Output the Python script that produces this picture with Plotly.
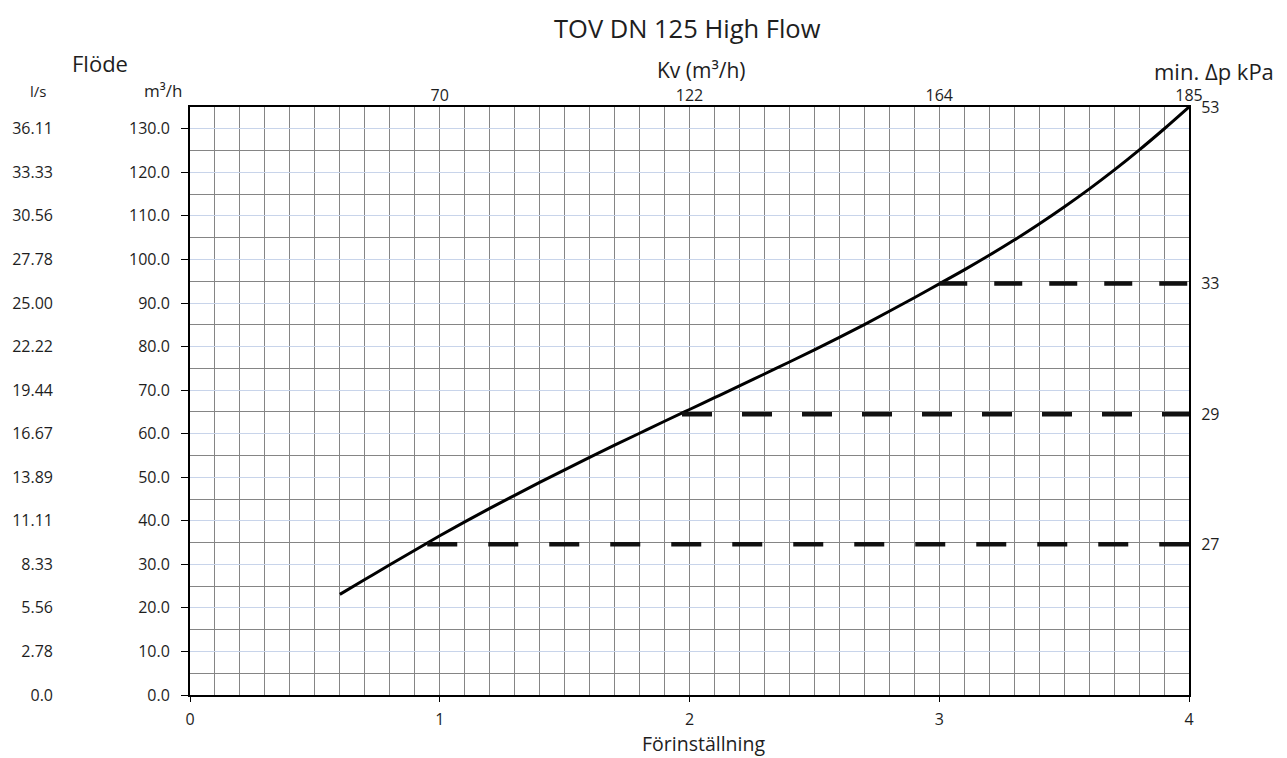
import plotly.graph_objects as go

# ---- data ----
preset = [0.6, 0.7, 0.8, 0.9, 1.0, 1.1, 1.2, 1.3, 1.4, 1.5, 1.6, 1.7, 1.8, 1.9, 2.0,
          2.1, 2.2, 2.3, 2.4, 2.5, 2.6, 2.7, 2.8, 2.9, 3.0, 3.1, 3.2, 3.3, 3.4, 3.5,
          3.6, 3.7, 3.8, 3.9, 4.0]
flow_m3h = [23.1, 26.5, 29.9, 33.25, 36.55, 39.75, 42.85, 45.85, 48.8, 51.7, 54.55,
            57.35, 60.1, 62.85, 65.55, 68.25, 70.95, 73.7, 76.45, 79.25, 82.1, 85.05,
            88.1, 91.2, 94.4, 97.6, 100.95, 104.45, 108.15, 112.05, 116.15, 120.5,
            125.1, 129.95, 135.0]

dp_levels = [34.6, 64.45, 94.5]          # m3/h level of each min. dp line
dp_starts = [0.95, 1.97, 3.0]            # preset where each dashed line begins
dp_labels = ["27", "29", "33"]
dp_top_level = 135.0
dp_top_label = "53"
dp_dashes = ["30px,31px", "30px,30px", "28px,27px"]

kv_positions = [1, 2, 3, 4]
kv_labels = ["70", "122", "164", "185"]

m3h_ticks = [0, 10, 20, 30, 40, 50, 60, 70, 80, 90, 100, 110, 120, 130]
m3h_labels = ["0.0", "10.0", "20.0", "30.0", "40.0", "50.0", "60.0", "70.0", "80.0",
              "90.0", "100.0", "110.0", "120.0", "130.0"]
ls_labels = ["0.0", "2.78", "5.56", "8.33", "11.11", "13.89", "16.67", "19.44",
             "22.22", "25.00", "27.78", "30.56", "33.33", "36.11"]

x_ticks = [0, 1, 2, 3, 4]

# ---- layout constants (page body has an 8px margin) ----
OFF = 8
W, H = 1287 - OFF, 758 - OFF
ML, MR, MT, MB = 45, 98, 98.5, 62.5
PLOT_L = 182
FONT = "Open Sans"
TXT = "#1e1e1e"
GRAY = "#858585"
LBLUE = "#c8d4ea"

fig = go.Figure()

fig.add_trace(go.Scatter(x=preset, y=flow_m3h, mode="lines",
                         line=dict(color="black", width=3, shape="spline", smoothing=1.0),
                         hoverinfo="skip", showlegend=False))

for lvl, st, dsh in zip(dp_levels, dp_starts, dp_dashes):
    fig.add_trace(go.Scatter(x=[st, 4], y=[lvl, lvl], mode="lines",
                             line=dict(color="#111111", width=4.5, dash=dsh),
                             hoverinfo="skip", showlegend=False))

# invisible carriers for secondary axes
fig.add_trace(go.Scatter(x=preset, y=flow_m3h, xaxis="x2", yaxis="y2", mode="lines",
                         line=dict(width=0), opacity=0, hoverinfo="skip", showlegend=False))
fig.add_trace(go.Scatter(x=preset, y=flow_m3h, xaxis="x", yaxis="y3", mode="lines",
                         line=dict(width=0), opacity=0, hoverinfo="skip", showlegend=False))

PW = W - ML - MR
PH = H - MT - MB
dom0 = (PLOT_L - ML) / PW


def px_x(px):
    return (px - OFF - ML) / PW


def px_y(py):
    return 1 - (py - OFF - MT) / PH


fig.update_layout(
    width=W, height=H,
    margin=dict(l=ML, r=MR, t=MT, b=MB, autoexpand=False),
    paper_bgcolor="white", plot_bgcolor="white",
    font=dict(family=FONT, size=16, color=TXT),
    showlegend=False,
    xaxis=dict(domain=[dom0, 1], range=[0, 4], tickvals=x_ticks,
               ticks="outside", ticklen=5, tickcolor="black", tickwidth=1,
               ticklabelstandoff=4,
               showgrid=True, gridcolor=GRAY, gridwidth=1,
               minor=dict(dtick=0.1, showgrid=True, gridcolor=GRAY, gridwidth=1, ticks=""),
               showline=True, linecolor="black", linewidth=2, mirror=True,
               zeroline=False, automargin=False,
               tickfont=dict(size=16)),
    xaxis2=dict(overlaying="x", side="top", range=[0, 4], anchor="y",
                tickvals=kv_positions, ticktext=kv_labels, ticks="",
                ticklabelstandoff=2,
                showgrid=False, showline=False, zeroline=False, automargin=False,
                tickfont=dict(size=16)),
    yaxis=dict(range=[0, 135], tickvals=m3h_ticks, ticktext=m3h_labels,
               ticks="outside", ticklen=7, tickcolor="black", tickwidth=1,
               ticklabelstandoff=8,
               showgrid=True, gridcolor=LBLUE, gridwidth=1,
               minor=dict(tick0=0, dtick=5, showgrid=True, gridcolor=GRAY, gridwidth=1, ticks=""),
               showline=True, linecolor="black", linewidth=2, mirror=True,
               zeroline=False, automargin=False, tickfont=dict(size=16)),
    yaxis2=dict(overlaying="y", side="right", anchor="x", range=[0, 135],
                tickvals=dp_levels + [dp_top_level], ticktext=dp_labels + [dp_top_label],
                ticks="outside", ticklen=8, tickcolor="rgba(0,0,0,0)",
                showgrid=False, showline=False, zeroline=False, automargin=False,
                tickfont=dict(size=16)),
    yaxis3=dict(overlaying="y", anchor="free", position=0, side="left", range=[0, 135],
                tickvals=m3h_ticks, ticktext=ls_labels, ticks="",
                showgrid=False, showline=False, zeroline=False, automargin=False,
                tickfont=dict(size=16)),
)

headers = [("TOV DN 125 High Flow", 687, 27, 25.5),
           ("Flöde", 100, 62, 22), ("Kv (m³/h)", 701, 69, 21),
           ("min. Δp kPa", 1214, 70, 22), ("l/s", 38, 90, 15), ("m³/h", 163, 90, 17),
           ("Förinställning", 703, 744, 19.5)]
fig.update_layout(annotations=[
    dict(text=t, xref="paper", yref="paper", x=px_x(x), y=px_y(y),
         xanchor="center", yanchor="middle", showarrow=False,
         font=dict(family=FONT, size=s, color=TXT))
    for t, x, y, s in headers
])

fig.write_html("out.html")
